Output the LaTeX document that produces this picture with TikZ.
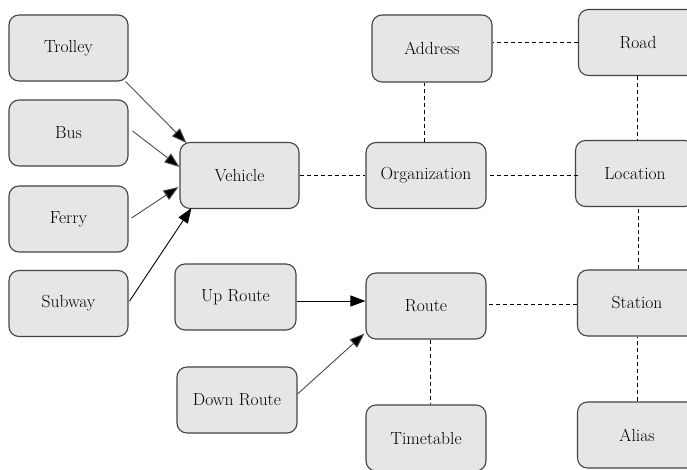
\documentclass[tikz,border=0pt]{standalone}
\usetikzlibrary{arrows.meta}
\definecolor{boxfill}{HTML}{E6E6E6}
\definecolor{boxline}{HTML}{444444}
\begin{document}
\begin{tikzpicture}[x=1pt,y=-1pt,
  box/.style={draw=boxline,fill=boxfill,line width=1.1pt,rounded corners=10pt,
    minimum width=119pt,minimum height=66pt,inner sep=0pt,
    font=\fontsize{17.5}{20}\selectfont},
  arr/.style={draw=black!70,line width=0.9pt,-{Triangle[length=15pt,width=11pt,fill=black]}},
  dsh/.style={draw=black,line width=0.8pt,dash pattern=on 4pt off 3pt}]
\useasboundingbox (0,0) rectangle (687,470);
\node[box] (trolley) at (68.5,48) {Trolley};
\node[box] (bus) at (68.5,133) {Bus};
\node[box] (ferry) at (68.5,219) {Ferry};
\node[box] (subway) at (68.5,303.5) {Subway};
\node[box] (vehicle) at (239.5,175.5) {Vehicle};
\node[box,minimum width=121pt] (uproute) at (235.5,297) {Up Route};
\node[box,minimum width=120pt] (downroute) at (237,400) {Down Route};
\node[box,minimum width=120pt,minimum height=67pt] (address) at (432,48.5) {Address};
\node[box,minimum width=120pt] (organization) at (426,175.5) {Organization};
\node[box,minimum width=120pt] (route) at (426,306) {Route};
\node[box,minimum width=120pt] (timetable) at (426,438) {Timetable};
\node[box] (road) at (638,42.5) {Road};
\node[box] (location) at (635,173.5) {Location};
\node[box] (station) at (637,303) {Station};
\node[box] (alias) at (637,435) {Alias};
% arrows
\draw[arr] ([xshift=-3pt]trolley.south east) -- ([xshift=7pt,yshift=-1pt]vehicle.north west);
\draw[arr] ([xshift=4pt,yshift=2pt]bus.east) -- ([yshift=8.5pt]vehicle.west);
\draw[arr] ([xshift=3pt,yshift=1pt]ferry.east) -- ([xshift=-1pt,yshift=-11.5pt]vehicle.west);
\draw[arr,draw=black] ([xshift=1pt,yshift=2.5pt]subway.east) -- ([xshift=12pt,yshift=1pt]vehicle.south west);
\draw[arr,draw=black] ([yshift=-4pt]uproute.east) -- ([yshift=5pt]route.west);
\draw[arr] ([yshift=6pt]downroute.east) -- ([xshift=-1pt,yshift=6pt]route.south west);
% dashed
\draw[dsh] (vehicle.east) -- (organization.west);
\draw[dsh] ([xshift=3pt]organization.east) -- ([xshift=3pt]organization.east -| location.west);
\draw[dsh] ([xshift=-2pt]organization.north) -- ([xshift=-2pt]organization.north |- address.south);
\draw[dsh] ([yshift=0.5pt]road.west) -- ([yshift=0.5pt]road.west -| address.east);
\draw[dsh] ([xshift=-1pt]road.south) -- ([xshift=-1pt]road.south |- location.north);
\draw[dsh] ([xshift=1pt]station.north) -- ([xshift=1pt]station.north |- location.south);
\draw[dsh] ([yshift=-1pt]station.west) -- ([yshift=-1pt]station.west -| route.east);
\draw[dsh] ([xshift=4pt]route.south) -- ([xshift=4pt]route.south |- timetable.north);
\draw[dsh] (alias.north) -- (alias.north |- station.south);
\end{tikzpicture}
\end{document}
